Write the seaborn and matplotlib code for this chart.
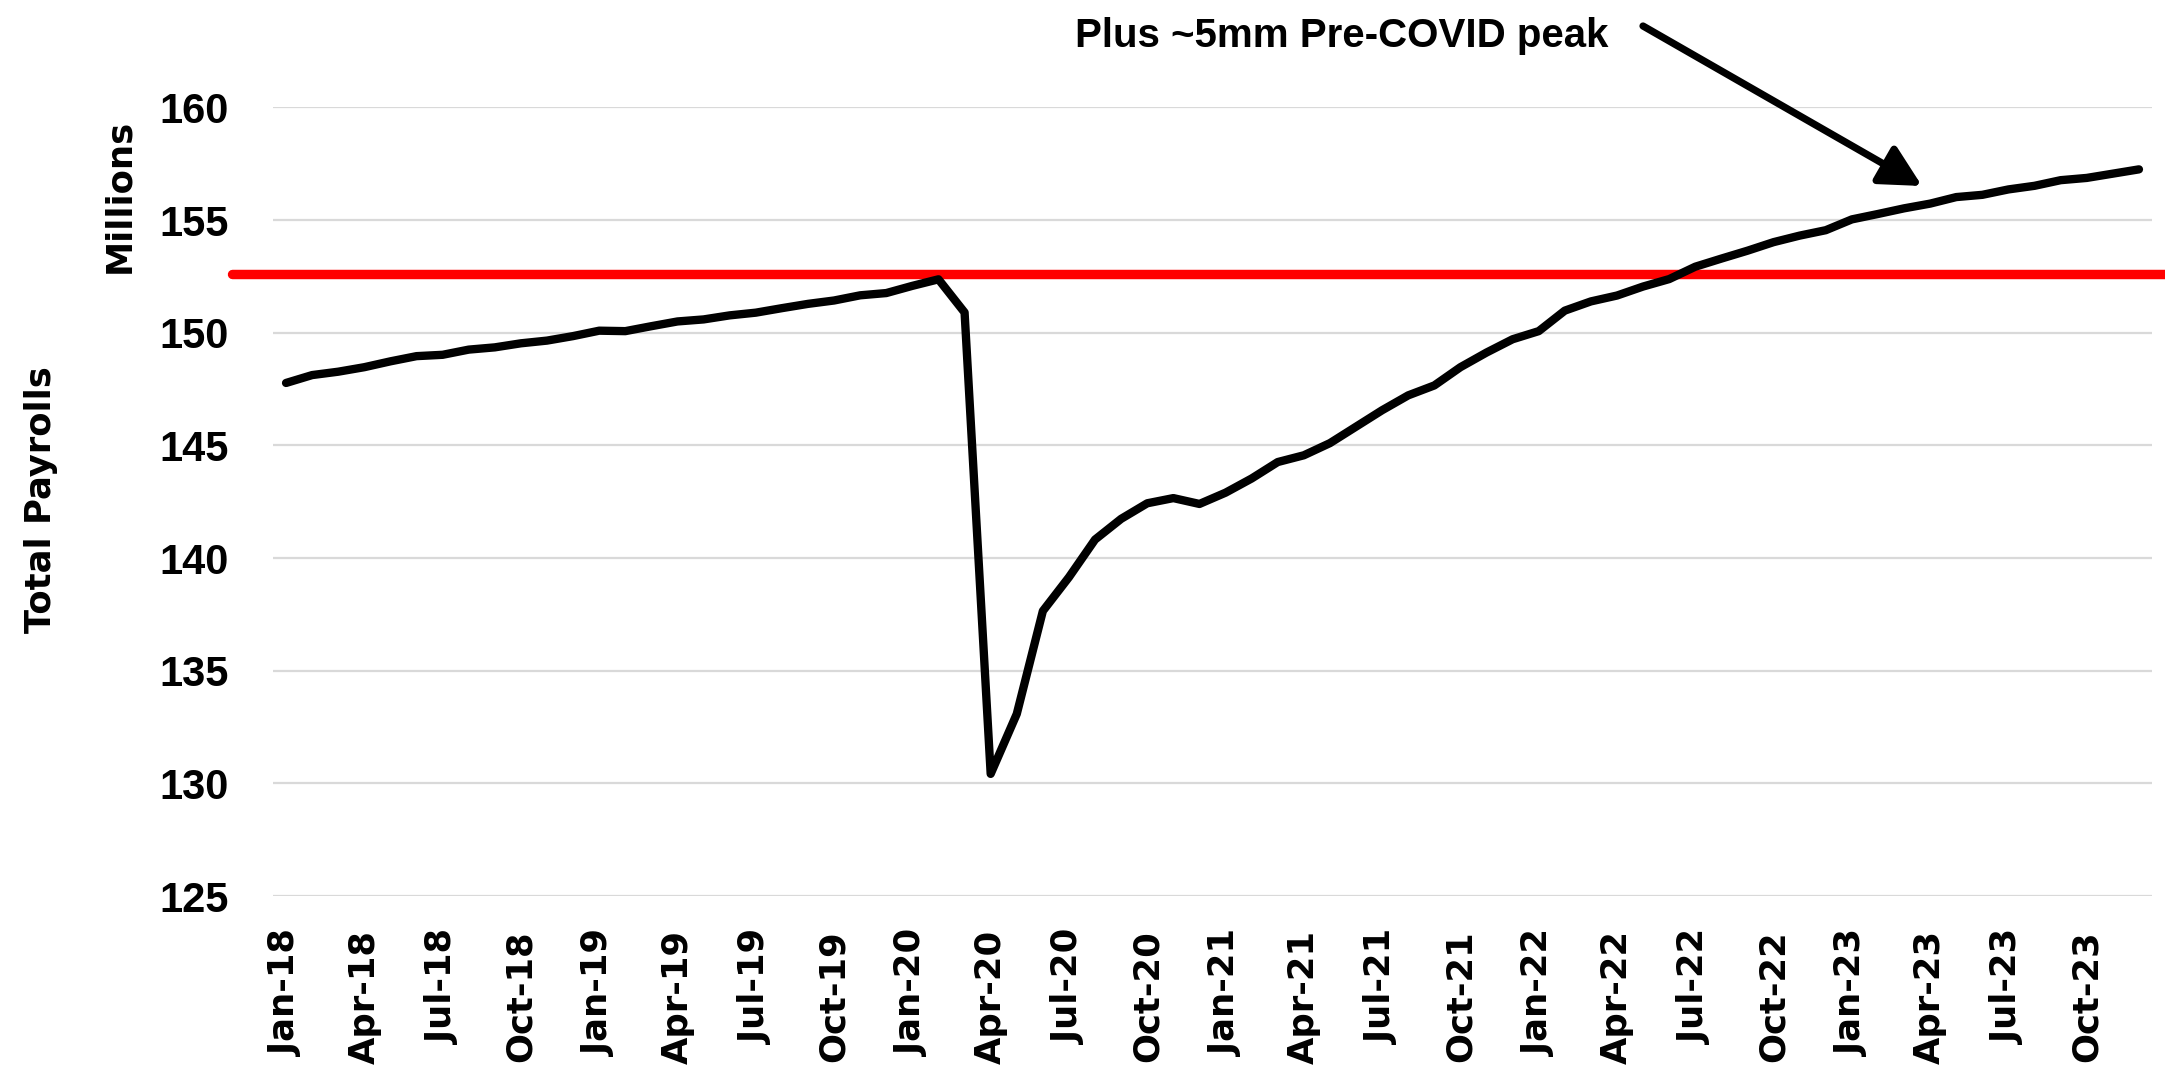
import numpy as np
import pandas as pd
import matplotlib
matplotlib.use("Agg")
import matplotlib.pyplot as plt
import seaborn as sns

# ---- data (millions, total nonfarm payrolls, monthly Jan-2018 .. Dec-2023) ----
months = pd.date_range("2018-01-01", "2023-12-01", freq="MS")
payrolls = [
    147.77, 148.12, 148.27, 148.47, 148.73, 148.96, 149.02, 149.25, 149.35, 149.53, 149.65, 149.85,
    150.09, 150.07, 150.29, 150.50, 150.59, 150.77, 150.89, 151.09, 151.28, 151.43, 151.66, 151.76,
    152.08, 152.37, 150.90, 130.42, 133.08, 137.65, 139.15, 140.82, 141.74, 142.43, 142.66, 142.40,
    142.90, 143.53, 144.26, 144.56, 145.10, 145.83, 146.56, 147.22, 147.66, 148.47, 149.12, 149.71,
    150.07, 150.98, 151.39, 151.65, 152.05, 152.38, 152.93, 153.29, 153.64, 154.02, 154.31, 154.55,
    155.03, 155.27, 155.52, 155.73, 156.02, 156.12, 156.36, 156.52, 156.77, 156.87, 157.06, 157.25,
]
pre_covid_peak = 152.6
y_ticks = [125, 130, 135, 140, 145, 150, 155, 160]
tick_every = 3
annotation_text = "Plus ~5mm Pre-COVID peak"
y_label_top = "Millions"
y_label_main = "Total Payrolls"

df = pd.DataFrame({"idx": np.arange(len(months)), "payrolls": payrolls})
x_tick_pos = list(range(0, len(months), tick_every))
x_tick_labels = [months[i].strftime("%b-%y") for i in x_tick_pos]

# ---- style ----
sns.set_theme(style="white")
plt.rcParams["font.family"] = ["DejaVu Sans"]
plt.rcParams["text.color"] = "black"
plt.rcParams["xtick.color"] = "black"
plt.rcParams["ytick.color"] = "black"
plt.rcParams["axes.labelcolor"] = "black"
narrow_font = "Liberation Sans"

W, H = 2165, 1065
fig = plt.figure(figsize=(W / 100, H / 100), dpi=100)
left, right, top, bottom = 273, 2152, 107.4, 896
ax = fig.add_axes([left / W, 1 - bottom / H, (right - left) / W, (bottom - top) / H])

sns.lineplot(data=df, x="idx", y="payrolls", ax=ax, color="black",
             linewidth=6.0, zorder=4, solid_joinstyle="round", solid_capstyle="round")

# red pre-COVID peak line (extends slightly left of the plot area and to the figure edge)
ax.axhline(pre_covid_peak, xmin=(232 - left) / (right - left), xmax=(W - left) / (right - left),
           color="#FF0000", linewidth=6.8, zorder=3, clip_on=False)

ax.set_xlim(-0.5, len(months) - 0.5)
ax.set_ylim(y_ticks[0], y_ticks[-1])
ax.set_yticks(y_ticks)
ax.set_xticks(x_tick_pos)
ax.set_xticklabels(x_tick_labels, rotation=90, fontsize=25.5, fontweight="bold",
                   family="DejaVu Sans", color="black")
ax.set_yticklabels([str(v) for v in y_ticks], fontsize=30, fontweight="bold",
                   family=narrow_font, color="black")
ax.tick_params(axis="x", length=0, pad=24.5)
ax.tick_params(axis="y", length=0, pad=32)
ax.yaxis.grid(True, color="#D9D9D9", linewidth=1.6)
ax.xaxis.grid(False)
ax.set_axisbelow(True)
for s in ax.spines.values():
    s.set_visible(False)
ax.set_xlabel("")
ax.set_ylabel("")

# axis titles
fig.text(119 / W, 1 - 196 / H, y_label_top, rotation=90, ha="center", va="center",
         fontsize=25.5, fontweight="bold", family="DejaVu Sans", color="black")
fig.text(41 / W, 1 - 500 / H, y_label_main, rotation=90, ha="center", va="center",
         fontsize=25.5, fontweight="bold", family="DejaVu Sans", color="black")

# annotation
fig.text(1075 / W, 1 - 47 / H, annotation_text, ha="left", va="baseline",
         fontsize=29, fontweight="bold", family=narrow_font, color="black")
ax.annotate("", xy=(1922, H - 186), xycoords="figure pixels",
            xytext=(1643, H - 26), textcoords="figure pixels",
            arrowprops=dict(arrowstyle="-|>,head_length=1.25,head_width=0.65",
                            mutation_scale=20, color="black", lw=5.2,
                            shrinkA=0, shrinkB=0))

fig.savefig("out.png", dpi=100, facecolor="white")
